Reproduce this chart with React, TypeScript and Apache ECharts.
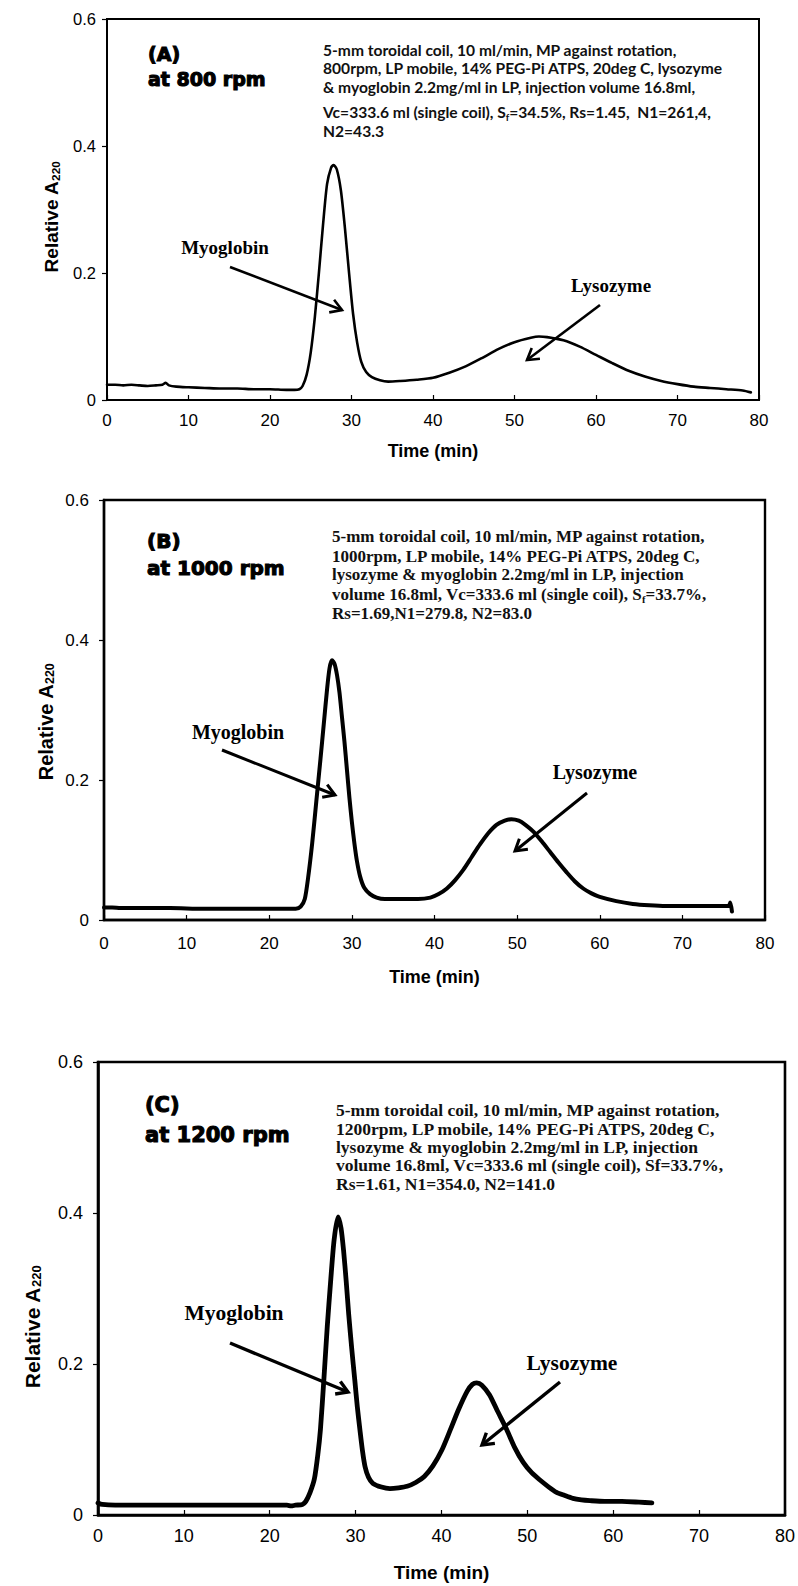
import React, { useEffect, useRef } from "react";
import * as echarts from "echarts";

// ---------- DATA ----------
const timeA = [0, 1, 2, 3, 4, 5, 6, 6.8, 7.2, 7.6, 8.5, 10, 12, 14, 16, 18, 20, 22, 23, 23.6, 24, 24.5, 25, 25.5, 26, 26.5, 27, 27.5, 27.8, 28.2, 28.7, 29.2, 29.7, 30.2, 30.7, 31.2, 31.8, 32.5, 33.5, 34.5, 36, 38, 40, 42, 44, 46, 48, 50, 52, 53, 54, 56, 58, 60, 62, 64, 66, 68, 70, 72, 74, 76, 78, 79];
const absA = [0.024, 0.024, 0.023, 0.024, 0.023, 0.022, 0.023, 0.024, 0.027, 0.023, 0.021, 0.02, 0.019, 0.018, 0.018, 0.017, 0.017, 0.016, 0.016, 0.017, 0.022, 0.04, 0.075, 0.13, 0.2, 0.275, 0.34, 0.366, 0.37, 0.363, 0.33, 0.27, 0.2, 0.135, 0.09, 0.06, 0.044, 0.036, 0.031, 0.029, 0.03, 0.032, 0.035, 0.043, 0.053, 0.066, 0.08, 0.091, 0.098, 0.1, 0.099, 0.094, 0.084, 0.071, 0.058, 0.046, 0.037, 0.03, 0.025, 0.021, 0.019, 0.017, 0.015, 0.012];

const timeB = [0, 1, 2, 5, 8, 12, 16, 18, 20, 22, 23.2, 23.8, 24.3, 24.7, 25.2, 25.7, 26.2, 26.6, 27, 27.3, 27.6, 27.9, 28.2, 28.5, 28.8, 29.1, 29.4, 29.7, 30, 30.3, 30.6, 31, 31.5, 32.2, 33, 34, 36, 38, 39.5, 40.5, 41.5, 42.5, 43.5, 44.5, 45.5, 46.5, 47.5, 48.5, 49.3, 50.2, 51, 52, 53, 54, 55, 56, 57, 58, 59, 60, 62, 64, 66, 68, 70, 72, 74, 75.6, 75.8, 76];
const absB = [0.018, 0.018, 0.017, 0.017, 0.017, 0.016, 0.016, 0.016, 0.016, 0.016, 0.016, 0.019, 0.03, 0.06, 0.11, 0.17, 0.23, 0.28, 0.33, 0.36, 0.371, 0.366, 0.35, 0.325, 0.29, 0.255, 0.215, 0.175, 0.14, 0.11, 0.085, 0.062, 0.046, 0.037, 0.032, 0.03, 0.03, 0.03, 0.032, 0.037, 0.045, 0.057, 0.072, 0.09, 0.108, 0.124, 0.136, 0.142, 0.144, 0.142, 0.136, 0.126, 0.112, 0.097, 0.082, 0.068, 0.055, 0.045, 0.038, 0.033, 0.027, 0.023, 0.021, 0.02, 0.02, 0.02, 0.02, 0.02, 0.025, 0.012];

const timeC = [0, 0.5, 2, 5, 10, 15, 20, 22, 22.5, 23, 23.8, 24.2, 24.7, 25.2, 25.6, 25.9, 26.3, 26.7, 27.1, 27.5, 27.95, 28.3, 28.6, 28.9, 29.2, 29.55, 29.9, 30.2, 30.5, 30.8, 31.1, 31.5, 32, 33, 34, 35, 36, 37, 38, 39, 40, 41, 42, 43, 43.6, 44.1, 44.7, 45.6, 46.5, 47.6, 48.5, 49.5, 50.5, 51.5, 52.5, 53.4, 54.3, 55.3, 56.3, 57.3, 59, 61, 63, 64.5];
const absC = [0.016, 0.014, 0.013, 0.013, 0.013, 0.013, 0.013, 0.013, 0.012, 0.013, 0.014, 0.018, 0.03, 0.048, 0.08, 0.113, 0.179, 0.25, 0.311, 0.365, 0.395, 0.38, 0.35, 0.31, 0.265, 0.22, 0.179, 0.143, 0.113, 0.085, 0.064, 0.05, 0.042, 0.037, 0.035, 0.036, 0.038, 0.043, 0.051, 0.065, 0.085, 0.112, 0.14, 0.164, 0.173, 0.175, 0.172, 0.159, 0.138, 0.113, 0.09, 0.07, 0.056, 0.046, 0.037, 0.03, 0.026, 0.022, 0.02, 0.019, 0.018, 0.018, 0.017, 0.016];

const panelLetters = ["(A)", "(B)", "(C)"];
const rpmLabels = ["at 800 rpm", "at 1000 rpm", "at 1200 rpm"];
const peakNames = ["Myoglobin", "Lysozyme"];
const xAxisTitle = "Time (min)";
const yAxisTitle = ["Relative A", "220"];

const notesA = [
  "5-mm toroidal coil, 10 ml/min, MP against rotation,",
  "800rpm, LP mobile, 14% PEG-Pi ATPS, 20deg C, lysozyme",
  "& myoglobin 2.2mg/ml in LP, injection volume 16.8ml,",
  "Vc=333.6 ml (single coil), S_f=34.5%, Rs=1.45,  N1=261,4,",
  "N2=43.3",
];
const notesB = [
  "5-mm toroidal coil, 10 ml/min, MP against rotation,",
  "1000rpm, LP mobile, 14% PEG-Pi ATPS, 20deg C,",
  "lysozyme & myoglobin 2.2mg/ml in LP, injection",
  "volume 16.8ml, Vc=333.6 ml (single coil), S_f=33.7%,",
  "Rs=1.69,N1=279.8, N2=83.0",
];
const notesC = [
  "5-mm toroidal coil, 10 ml/min, MP against rotation,",
  "1200rpm, LP mobile, 14% PEG-Pi ATPS, 20deg C,",
  "lysozyme & myoglobin 2.2mg/ml in LP, injection",
  "volume 16.8ml, Vc=333.6 ml (single coil), Sf=33.7%,",
  "Rs=1.61, N1=354.0, N2=141.0",
];

// ---------- LAYOUT ----------
const SANS = "'Liberation Sans', Arial, sans-serif";
const SERIF = "'Liberation Serif', 'Times New Roman', serif";
const HEAVY = "'DejaVu Sans', sans-serif";

const panels = [
  {
    times: timeA, values: absA, notes: notesA,
    grid: { left: 107, top: 19, width: 652, height: 381 },
    lineW: 2.6, borderW: 2, yLabelSize: 16.5, xLabelSize: 17, yMargin: 11, xMargin: 12, nameGap: 42, nameSize: 18,
    yName: { x: 50, y: 217, size: 19 },
    title: { x: 148, y1: 54, y2: 79, size: 19 },
    notesPos: { x: 323, ys: [48.5, 67, 85.5, 110.5, 130], size: 15.6, font: "Lato, sans-serif", weight: "bold" },
    labels: [{ x: 225, y: 247, size: 19 }, { x: 611, y: 285, size: 19 }],
    arrows: [[230, 267, 342, 310], [600, 305, 527, 360]], arrowW: 2.6,
  },
  {
    times: timeB, values: absB, notes: notesB,
    grid: { left: 104, top: 500, width: 661, height: 420 },
    lineW: 4, borderW: 2.4, yLabelSize: 17, xLabelSize: 17, yMargin: 15, xMargin: 15, nameGap: 48, nameSize: 18,
    yName: { x: 44, y: 722, size: 20 },
    title: { x: 147, y1: 541, y2: 568, size: 20 },
    notesPos: { x: 332, ys: [535, 555, 573, 593, 612], size: 17, font: SERIF, weight: "bold" },
    labels: [{ x: 238, y: 732, size: 20 }, { x: 595, y: 772, size: 20 }],
    arrows: [[222, 750, 335, 795], [587, 793, 515, 851]], arrowW: 3,
  },
  {
    times: timeC, values: absC, notes: notesC,
    grid: { left: 98, top: 1062, width: 687, height: 453 },
    lineW: 4.8, borderW: 2.6, yLabelSize: 18, xLabelSize: 18, yMargin: 15, xMargin: 12, nameGap: 48, nameSize: 19,
    yName: { x: 30, y: 1327, size: 21 },
    title: { x: 145, y1: 1105, y2: 1135, size: 21 },
    notesPos: { x: 336, ys: [1108, 1127, 1145, 1163, 1182], size: 17.5, font: SERIF, weight: "bold" },
    labels: [{ x: 234, y: 1313, size: 21.5 }, { x: 572, y: 1363, size: 21.5 }],
    arrows: [[230, 1343, 348, 1392], [560, 1382, 482, 1445]], arrowW: 3.4,
  },
];

function richLine(line: string) {
  const i = line.indexOf("S_f");
  if (i < 0) return `{m|${line}}`;
  return `{m|${line.slice(0, i)}S}{s|f}{m|${line.slice(i + 3)}}`;
}

function arrowElements(a: number[], w: number) {
  const [x1, y1, x2, y2] = a;
  const ang = Math.atan2(y2 - y1, x2 - x1);
  const L = 13;
  const spread = 0.55;
  const h1 = [x2 - L * Math.cos(ang - spread), y2 - L * Math.sin(ang - spread)];
  const h2 = [x2 - L * Math.cos(ang + spread), y2 - L * Math.sin(ang + spread)];
  return [
    { type: "line", shape: { x1, y1, x2, y2 }, style: { stroke: "#000", lineWidth: w } },
    { type: "polyline", shape: { points: [h1, [x2, y2], h2] }, style: { stroke: "#000", lineWidth: w, fill: null, lineJoin: "miter" } },
  ];
}

export default function App() {
  const ref = useRef<HTMLDivElement>(null);

  useEffect(() => {
    document.body.style.margin = "0";
    if (!ref.current) return;
    const chart = echarts.init(ref.current, undefined, { renderer: "svg" });

    const grids: any[] = [];
    const xAxes: any[] = [];
    const yAxes: any[] = [];
    const series: any[] = [];
    const graphic: any[] = [];

    panels.forEach((p, i) => {
      grids.push({ ...p.grid, show: true, borderColor: "#000", borderWidth: p.borderW, backgroundColor: "transparent", containLabel: false });
      xAxes.push({
        type: "value", gridIndex: i, min: 0, max: 80, interval: 10,
        name: xAxisTitle, nameLocation: "middle", nameGap: p.nameGap,
        nameTextStyle: { fontFamily: SANS, fontWeight: "bold", fontSize: p.nameSize, color: "#000" },
        axisLine: { show: true, onZero: false, lineStyle: { color: "#000", width: p.borderW } },
        axisTick: { show: true, inside: true, length: 5, lineStyle: { color: "#000", width: 1.2 } },
        axisLabel: { fontFamily: SANS, fontSize: p.xLabelSize, color: "#000", margin: p.xMargin },
        splitLine: { show: false },
      });
      yAxes.push({
        type: "value", gridIndex: i, min: 0, max: 0.6, interval: 0.2,
        axisLine: { show: true, onZero: false, lineStyle: { color: "#000", width: p.borderW } },
        axisTick: { show: true, inside: false, length: 5, lineStyle: { color: "#000", width: 1.2 } },
        axisLabel: {
          fontFamily: SANS, fontSize: p.yLabelSize, color: "#000", margin: p.yMargin,
          formatter: (v: number) => (v === 0 ? "0" : v.toFixed(1)),
        },
        splitLine: { show: false },
      });
      series.push({
        type: "line", xAxisIndex: i, yAxisIndex: i,
        data: p.times.map((t, k) => [t, p.values[k]]),
        showSymbol: false, symbol: "none", smooth: 0.25,
        lineStyle: { color: "#000", width: p.lineW, join: "round", cap: "round" },
        silent: true,
      });

      // y axis title
      graphic.push({
        type: "text", x: p.yName.x, y: p.yName.y, rotation: Math.PI / 2,
        style: {
          text: `{a|${yAxisTitle[0]}}{b|${yAxisTitle[1]}}`,
          align: "center", verticalAlign: "middle",
          rich: {
            a: { fontFamily: SANS, fontWeight: "bold", fontSize: p.yName.size, fill: "#000", lineHeight: p.yName.size * 1.2, verticalAlign: "bottom" },
            b: { fontFamily: SANS, fontWeight: "bold", fontSize: p.yName.size * 0.62, fill: "#000", lineHeight: p.yName.size * 1.2, verticalAlign: "bottom" },
          },
        },
      });
      // panel title
      graphic.push({
        type: "text", x: p.title.x, y: p.title.y1,
        style: { text: panelLetters[i], fontFamily: HEAVY, fontWeight: "bold", fontSize: p.title.size, fill: "#000", align: "left", verticalAlign: "middle", stroke: "#000", lineWidth: 1.1 },
      });
      graphic.push({
        type: "text", x: p.title.x, y: p.title.y2,
        style: { text: rpmLabels[i], fontFamily: HEAVY, fontWeight: "bold", fontSize: p.title.size, fill: "#000", align: "left", verticalAlign: "middle", stroke: "#000", lineWidth: 1.1 },
      });
      // notes
      p.notes.forEach((line, k) => {
        graphic.push({
          type: "text", x: p.notesPos.x, y: p.notesPos.ys[k],
          style: {
            text: richLine(line), align: "left", verticalAlign: "middle",
            rich: {
              m: { fontFamily: p.notesPos.font, fontWeight: p.notesPos.weight, fontSize: p.notesPos.size, fill: "#111", lineHeight: p.notesPos.size * 1.2, verticalAlign: "bottom" },
              s: { fontFamily: p.notesPos.font, fontWeight: p.notesPos.weight, fontSize: p.notesPos.size * 0.62, fill: "#111", lineHeight: p.notesPos.size * 1.2, verticalAlign: "bottom", padding: [0, 0, -2, 0] },
            },
          },
        });
      });
      // peak labels + arrows
      p.labels.forEach((l, k) => {
        graphic.push({
          type: "text", x: l.x, y: l.y,
          style: { text: peakNames[k], fontFamily: SERIF, fontWeight: "bold", fontSize: l.size, fill: "#000", align: "center", verticalAlign: "middle" },
        });
      });
      p.arrows.forEach((a) => arrowElements(a, p.arrowW).forEach((el) => graphic.push(el)));
    });

    chart.setOption({
      animation: false,
      backgroundColor: "#fff",
      grid: grids,
      xAxis: xAxes,
      yAxis: yAxes,
      series,
      graphic,
    });

    return () => chart.dispose();
  }, []);

  return <div ref={ref} style={{ width: 798, height: 1586, display: "block" }} />;
}
